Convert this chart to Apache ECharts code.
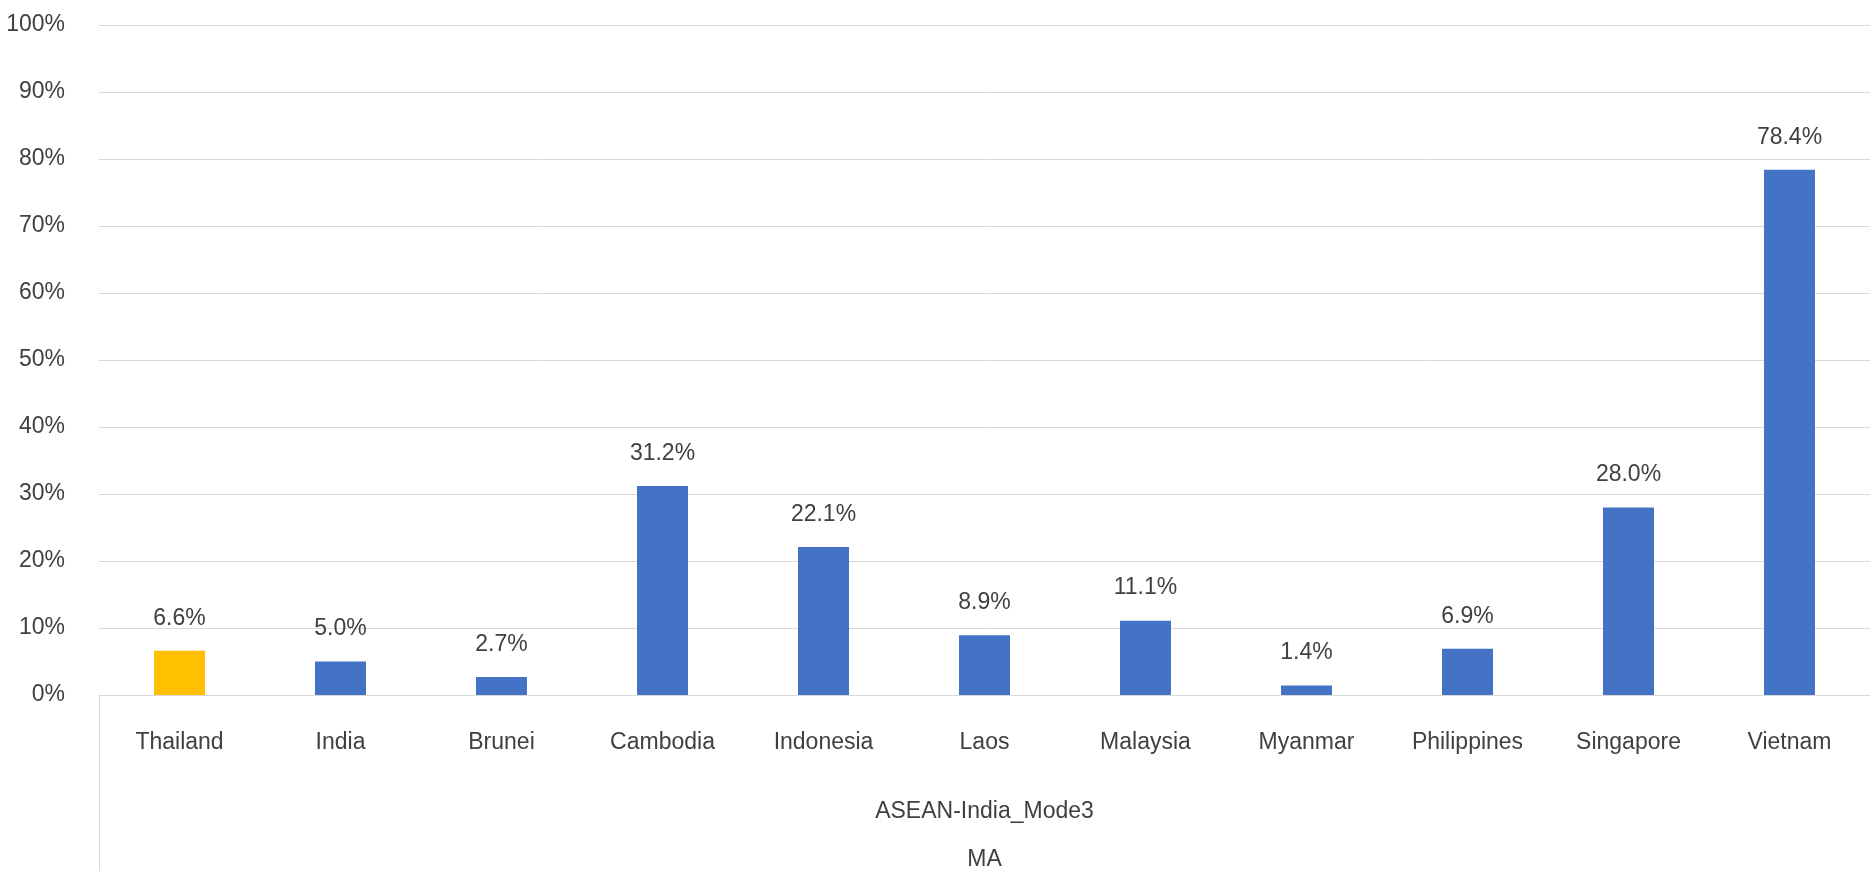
<!DOCTYPE html>
<html>
<head>
<meta charset="utf-8">
<script src="https://cdn.jsdelivr.net/npm/echarts@6/dist/echarts.min.js"></script>
<style>
  html, body { margin: 0; padding: 0; background: #fff; }
  #main { width: 1870px; height: 871px; }
</style>
</head>
<body>
<div id="main"></div>
<script>
var myChart = echarts.init(document.getElementById('main'));

// countries, share in percent
var countries = ['Thailand', 'India', 'Brunei', 'Cambodia', 'Indonesia', 'Laos', 'Malaysia', 'Myanmar', 'Philippines', 'Singapore', 'Vietnam'];
var values = [6.6, 5.0, 2.7, 31.2, 22.1, 8.9, 11.1, 1.4, 6.9, 28.0, 78.4];
var groupLevel1 = ['ASEAN-India_Mode3'];
var groupLevel2 = ['MA'];

var textColor = '#404040';
var gridColor = '#d9d9d9';
var fontFam = "'Liberation Sans', Arial, sans-serif";

var barData = values.map(function (v, i) {
    return {
        value: v,
        itemStyle: { color: i === 0 ? '#FFC000' : '#4472C4' }
    };
});

var option = {
    animation: false,
    grid: {
        left: 99,
        right: 0,
        top: 25,
        bottom: 175
    },
    xAxis: [
        {
            type: 'category',
            data: countries,
            axisLine: { lineStyle: { color: gridColor, width: 1 } },
            axisTick: {
                show: true,
                length: 180,
                interval: function (index) { return index === 0; },
                lineStyle: { color: gridColor }
            },
            axisLabel: {
                color: textColor,
                fontSize: 23,
                fontFamily: fontFam,
                margin: 36,
                interval: 0
            }
        },
        {
            type: 'category',
            data: groupLevel1,
            position: 'bottom',
            offset: 70,
            axisLine: { show: false },
            axisTick: { show: false },
            axisLabel: {
                color: textColor,
                fontSize: 23,
                fontFamily: fontFam,
                margin: 35
            }
        },
        {
            type: 'category',
            data: groupLevel2,
            position: 'bottom',
            offset: 116,
            axisLine: { show: false },
            axisTick: { show: false },
            axisLabel: {
                color: textColor,
                fontSize: 23,
                fontFamily: fontFam,
                margin: 37
            }
        }
    ],
    yAxis: {
        type: 'value',
        min: 0,
        max: 100,
        interval: 10,
        axisLine: { show: false },
        axisTick: { show: false },
        splitLine: { lineStyle: { color: gridColor, width: 1 } },
        axisLabel: {
            formatter: '{value}%',
            color: textColor,
            fontSize: 23,
            fontFamily: fontFam,
            margin: 34
        }
    },
    series: [
        {
            type: 'bar',
            xAxisIndex: 0,
            barWidth: 51,
            data: barData,
            label: {
                show: true,
                position: 'top',
                distance: 21,
                color: textColor,
                fontSize: 23,
                fontFamily: fontFam,
                formatter: function (p) { return p.value.toFixed(1) + '%'; }
            }
        }
    ]
};

myChart.setOption(option);
</script>
</body>
</html>
